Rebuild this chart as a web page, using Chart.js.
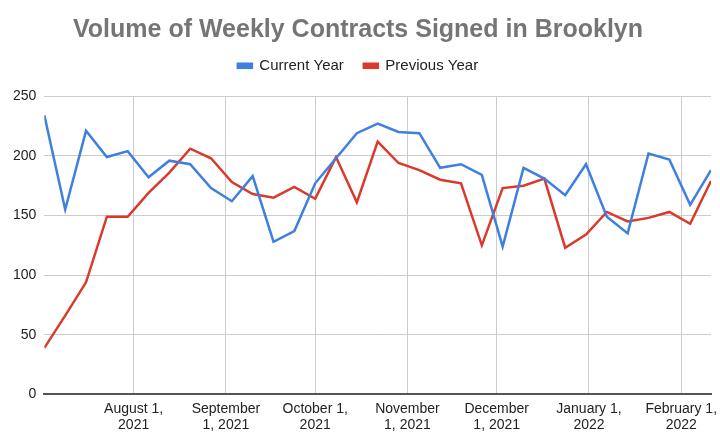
<!DOCTYPE html>
<html>
<head>
<meta charset="utf-8">
<script src="https://cdn.jsdelivr.net/npm/chart.js@4"></script>
<style>
    html, body { margin: 0; padding: 0; background: #fff; }
    #wrap { width: 720px; height: 440px; }
</style>
</head>
<body>
<div id="wrap"><canvas id="contractsChart"></canvas></div>
<script>
const weeks = [
    '2021-07-02', '2021-07-09', '2021-07-16', '2021-07-23', '2021-07-30',
    '2021-08-06', '2021-08-13', '2021-08-20', '2021-08-27',
    '2021-09-03', '2021-09-10', '2021-09-17', '2021-09-24',
    '2021-10-01', '2021-10-08', '2021-10-15', '2021-10-22', '2021-10-29',
    '2021-11-05', '2021-11-12', '2021-11-19', '2021-11-26',
    '2021-12-03', '2021-12-10', '2021-12-17', '2021-12-24', '2021-12-31',
    '2022-01-07', '2022-01-14', '2022-01-21', '2022-01-28',
    '2022-02-04', '2022-02-11'
];

const currentYear = [
    234, 155, 221, 199, 204, 182, 196, 193, 173, 162, 183, 128, 137,
    177, 198, 219, 227, 220, 219, 190, 193, 184, 124, 190, 181, 167,
    193, 149, 135, 202, 197, 159, 188
];

const previousYear = [
    39, 66, 94, 149, 149, 169, 186, 206, 198, 178, 168, 165, 174,
    164, 199, 161, 212, 194, 188, 180, 177, 125, 173, 175, 181, 123,
    134, 153, 145, 148, 153, 143, 179
];

const monthTicks = ['2021-08-01', '2021-09-01', '2021-10-01', '2021-11-01', '2021-12-01', '2022-01-01', '2022-02-01'];
const monthLabels = [
    ['August 1,', '2021'],
    ['September', '1, 2021'],
    ['October 1,', '2021'],
    ['November', '1, 2021'],
    ['December', '1, 2021'],
    ['January 1,', '2022'],
    ['February 1,', '2022']
];

const yTicks = [0, 50, 100, 150, 200, 250];

// days since first week, so the x axis keeps real calendar spacing
const dayOf = (d) => (Date.parse(d) - Date.parse(weeks[0])) / 864e5;
const tickDays = monthTicks.map(dayOf);

function toPoints(values) {
    return values.map((v, i) => ({ x: dayOf(weeks[i]), y: v }));
}

Chart.defaults.font.family = '"Liberation Sans", Arial, sans-serif';
Chart.defaults.color = '#222';

new Chart(document.getElementById('contractsChart').getContext('2d'), {
    type: 'line',
    data: {
        datasets: [
            {
                label: 'Current Year',
                data: toPoints(currentYear),
                borderColor: '#3f7fe0',
                backgroundColor: '#3f7fe0',
                borderWidth: 2.5,
                pointRadius: 0,
                tension: 0
            },
            {
                label: 'Previous Year',
                data: toPoints(previousYear),
                borderColor: '#d93a2b',
                backgroundColor: '#d93a2b',
                borderWidth: 2.5,
                pointRadius: 0,
                tension: 0
            }
        ]
    },
    options: {
        responsive: true,
        maintainAspectRatio: false,
        animation: false,
        layout: {
            padding: { left: 5, right: 9, top: 22, bottom: 0 }
        },
        scales: {
            x: {
                type: 'linear',
                min: 0,
                max: dayOf(weeks[weeks.length - 1]),
                afterBuildTicks: (axis) => {
                    axis.ticks = tickDays.map(v => ({ value: v }));
                },
                // let the last label run into the right margin like the original
                afterFit: (axis) => { axis.paddingRight = 0; },
                ticks: {
                    autoSkip: false,
                    maxRotation: 0,
                    padding: 6,
                    font: { size: 14 },
                    color: '#222',
                    callback: (value) => {
                        const idx = tickDays.indexOf(value);
                        return idx >= 0 ? monthLabels[idx] : '';
                    }
                },
                grid: {
                    color: '#cccccc',
                    lineWidth: 1,
                    drawTicks: false
                },
                border: {
                    display: true,
                    color: '#555',
                    width: 2
                }
            },
            // empty top axis, only keeps a gap between legend and plot
            gap: {
                type: 'linear',
                position: 'top',
                axis: 'x',
                ticks: { display: false },
                grid: { display: false },
                border: { display: false },
                afterFit: (axis) => { axis.height = 13; }
            },
            y: {
                min: 0,
                max: 250,
                afterBuildTicks: (axis) => {
                    axis.ticks = yTicks.map(v => ({ value: v }));
                },
                ticks: {
                    padding: 8,
                    font: { size: 14 },
                    color: '#222'
                },
                grid: {
                    color: '#cccccc',
                    lineWidth: 1,
                    drawTicks: false
                },
                border: {
                    display: false
                }
            }
        },
        plugins: {
            title: {
                display: true,
                text: 'Volume of Weekly Contracts Signed in Brooklyn',
                color: '#757575',
                font: { size: 25, weight: 'bold', lineHeight: 0.65 },
                padding: { top: 0, bottom: 0 }
            },
            legend: {
                position: 'top',
                labels: {
                    boxWidth: 14,
                    boxHeight: 4,
                    padding: 20,
                    color: '#222',
                    font: { size: 15 }
                }
            },
            tooltip: { enabled: false }
        }
    }
});
</script>
</body>
</html>
